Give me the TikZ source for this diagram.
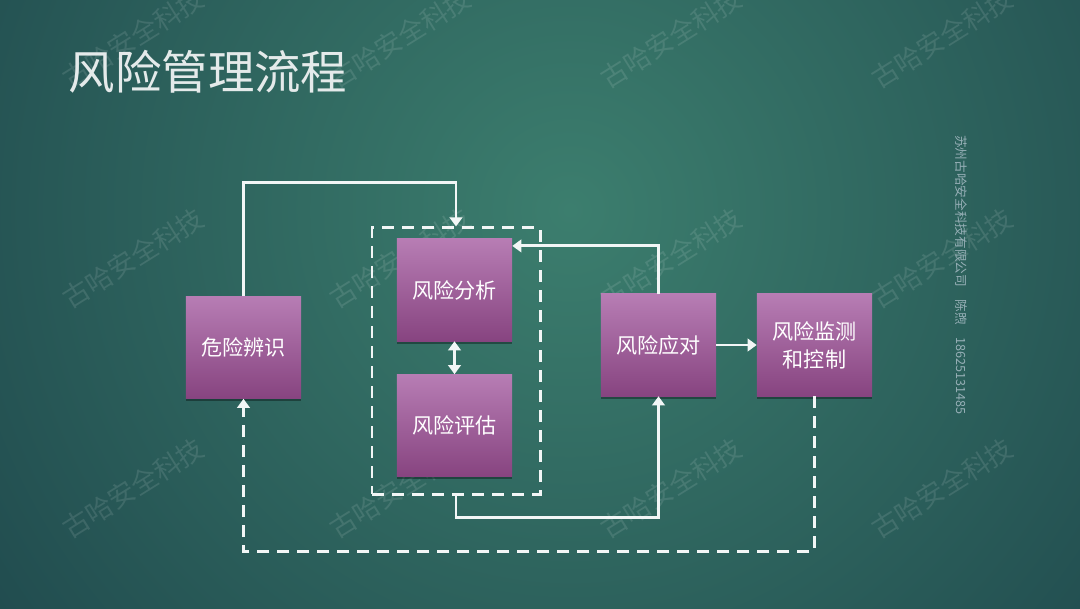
\documentclass[tikz,border=0pt]{standalone}
\usepackage{fontspec}
\newfontfamily\cjk{Noto Sans CJK SC}
\usetikzlibrary{arrows.meta,shadows}

\definecolor{bgin}{RGB}{60,126,110}
\definecolor{bgout}{RGB}{20,52,64}
\definecolor{boxtop}{RGB}{183,125,180}
\definecolor{boxbot}{RGB}{135,68,128}
\definecolor{linecol}{RGB}{242,246,246}
\definecolor{titlecol}{RGB}{228,234,234}
\definecolor{sidecol}{RGB}{150,175,182}

\begin{document}
\begin{tikzpicture}[x=0.025cm,y=-0.025cm,
    box/.style={minimum width=2.875cm,minimum height=2.55cm,inner sep=2pt,
        top color=boxtop,bottom color=boxbot,text=white,align=center,
        font=\cjk\fontsize{15}{20}\selectfont,
        drop shadow={shadow xshift=0pt,shadow yshift=-2pt,opacity=0.35,fill=black}},
    arr/.style={draw=linecol,line width=2.1pt,-{Triangle[length=6.5pt,width=9pt]}},
    arrboth/.style={draw=linecol,line width=2.1pt,{Triangle[length=6.5pt,width=9pt]}-{Triangle[length=6.5pt,width=9pt]}},
    dashline/.style={dash pattern=on 0.3cm off 0.2cm}]
    \useasboundingbox (0,0) rectangle (1080,608);
    \fill[bgout] (0,0) rectangle (1080,608);
    \begin{scope}
        \clip (0,0) rectangle (1080,608);
        \shade[inner color=bgin,outer color=bgout] (570,210) circle [radius=26cm];
    \end{scope}

    \foreach \x in {133,400,671,942}
        \foreach \y in {38,258,488}
            \node[rotate=32,text=white,opacity=0.11,font=\cjk\fontsize{19}{22}\selectfont] at (\x,\y) {古哈安全科技};

    \node[anchor=west,text=titlecol,font=\cjk\fontsize{33}{40}\selectfont] (title) at (64,72) {风险管理流程};
    \node[rotate=-90,text=sidecol,font=\cjk\fontsize{9}{11}\selectfont] (company) at (961,275)
        {苏州古哈安全科技有限公司\quad 陈煦\quad 18625131485};

    \node[box] (hazard) at (243.5,347.5) {危险辨识};
    \node[box] (analysis) at (454.5,290) {风险分析};
    \node[box] (evaluation) at (454.5,425.5) {风险评估};
    \node[box] (response) at (658.5,345) {风险应对};
    \node[box] (monitor) at (814.5,345) {风险监测\\和控制};
    \node[draw=linecol,line width=2.1pt,dashline,minimum width=4.2cm,minimum height=6.65cm] (group) at (456,361) {};

    \draw[arr] (hazard.north) -- ++(0,-114) -| (group.north);
    \draw[arr] (response.north) |- ([yshift=-0.18cm]analysis.north east);
    \draw[arrboth] (analysis) -- (evaluation);
    \draw[arr] (response) -- (monitor);
    \draw[arr] (group.south) -- ++(0,22) -| (response.south);
    \draw[arr,dashline] (monitor.south) -- ++(0,155) -| (hazard.south);
\end{tikzpicture}
\end{document}
